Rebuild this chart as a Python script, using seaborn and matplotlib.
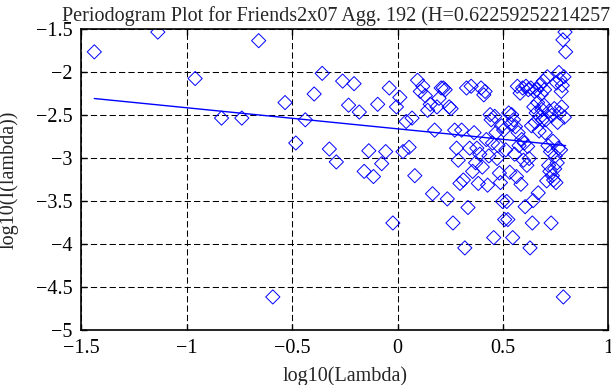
# ---------------------------------------------------
# Periodogram plot (log-log) with fitted line
# ---------------------------------------------------

import pandas as pd
import seaborn as sns
import matplotlib.pyplot as plt

# log10 of the frequencies (x) and of the periodogram values (y)
log_lambda = [
    -1.437, -1.136, -0.959, -0.834, -0.738, -0.658, -0.591, -0.533, -0.482, -0.437,
    -0.395, -0.357, -0.323, -0.290, -0.260, -0.232, -0.206, -0.181, -0.158, -0.136,
    -0.114, -0.094, -0.075, -0.056, -0.039, -0.022, -0.005, 0.011, 0.026, 0.041,
    0.055, 0.069, 0.082, 0.095, 0.108, 0.120, 0.132, 0.143, 0.155, 0.166,
    0.176, 0.187, 0.197, 0.207, 0.217, 0.226, 0.236, 0.245, 0.254, 0.263,
    0.271, 0.280, 0.288, 0.296, 0.304, 0.312, 0.319, 0.327, 0.334, 0.342,
    0.349, 0.356, 0.363, 0.370, 0.376, 0.383, 0.390, 0.396, 0.402, 0.409,
    0.415, 0.421, 0.427, 0.433, 0.439, 0.444, 0.450, 0.456, 0.461, 0.467,
    0.472, 0.477, 0.483, 0.488, 0.493, 0.498, 0.503, 0.508, 0.513, 0.518,
    0.523, 0.527, 0.532, 0.537, 0.541, 0.546, 0.550, 0.555, 0.559, 0.564,
    0.568, 0.572, 0.576, 0.581, 0.585, 0.589, 0.593, 0.597, 0.601, 0.605,
    0.609, 0.613, 0.617, 0.620, 0.624, 0.628, 0.632, 0.635, 0.639, 0.643,
    0.646, 0.650, 0.653, 0.657, 0.660, 0.664, 0.667, 0.671, 0.674, 0.677,
    0.681, 0.684, 0.687, 0.691, 0.694, 0.697, 0.700, 0.703, 0.707, 0.710,
    0.713, 0.716, 0.719, 0.722, 0.725, 0.728, 0.731, 0.734, 0.737, 0.740,
    0.743, 0.745, 0.748, 0.751, 0.754, 0.757, 0.759, 0.762, 0.765, 0.768,
    0.770, 0.773, 0.776, 0.778, 0.781, 0.784, 0.786, 0.789, 0.791, 0.794,
    0.797,
]
log_I = [
    -1.76, -1.53, -2.07, -2.53, -2.53, -1.63, -4.61, -2.35, -2.82, -2.55,
    -2.25, -2.01, -2.89, -3.04, -2.10, -2.38, -2.13, -2.46, -3.15, -2.91,
    -3.21, -2.37, -3.06, -2.92, -2.18, -3.75, -2.40, -2.29, -2.92, -2.57,
    -2.87, -2.53, -3.20, -2.09, -2.22, -2.16, -2.27, -2.44, -2.37, -3.41,
    -2.67, -2.40, -2.30, -2.18, -2.18, -2.20, -3.47, -2.40, -2.42, -3.75,
    -2.67, -2.88, -3.02, -3.29, -2.67, -3.25, -4.04, -2.18, -3.57, -2.88,
    -2.16, -3.15, -2.70, -3.05, -2.88, -3.29, -2.95, -2.18, -3.10, -2.26,
    -2.22, -2.78, -3.31, -2.97, -2.49, -2.55, -2.82, -3.92, -2.51, -2.70,
    -3.00, -2.85, -3.17, -3.28, -2.62, -3.50, -2.67, -3.71, -2.90, -3.50,
    -3.71, -2.47, -3.16, -2.60, -2.49, -3.92, -2.55, -2.95, -2.63, -3.21,
    -2.16, -2.70, -2.85, -2.24, -3.30, -2.78, -2.18, -3.02, -2.82, -3.56,
    -2.16, -3.08, -2.86, -2.20, -3.00, -4.04, -2.18, -2.62, -3.75, -3.49,
    -2.40, -2.22, -2.58, -2.47, -2.20, -2.35, -3.40, -2.68, -2.15, -2.52,
    -2.25, -2.43, -2.55, -2.10, -2.38, -2.20, -2.70, -2.55, -3.26, -2.05,
    -2.85, -3.08, -2.45, -3.15, -2.92, -3.75, -2.50, -3.20, -2.80, -3.25,
    -2.42, -3.12, -2.97, -3.28, -2.12, -3.05, -2.58, -2.88, -2.00, -2.47,
    -2.08, -2.90, -2.22, -2.40, -2.15, -1.62, -4.61, -2.05, -2.52, -1.53,
    -1.76,
]

# fitted line (slope = 1 - 2H)
hurst = "0.622592522142577"
fit_slope = -0.2452
fit_intercept = -2.655

x_ticks = [-1.5, -1, -0.5, 0, 0.5, 1]
y_ticks = [-5, -4.5, -4, -3.5, -3, -2.5, -2, -1.5]

sns.set_style("ticks")
plt.rcParams['font.family'] = ['Liberation Serif', 'DejaVu Serif']
plt.rcParams['font.size'] = 14.5

df = pd.DataFrame({'log_lambda': log_lambda, 'log_I': log_I})

fig = plt.figure(figsize=(6.11, 3.85), dpi=100)
ax = fig.add_axes([0.1326, 0.1416, 0.8633, 0.7818])

sns.scatterplot(data=df, x='log_lambda', y='log_I', marker='D', s=52,
                facecolors='none', edgecolors='blue', linewidths=0.7, ax=ax)

fx = [min(log_lambda), max(log_lambda)]
fy = [fit_intercept + fit_slope * v for v in fx]
ax.plot(fx, fy, color='blue', lw=1.0)

ax.set_xlim(-1.5, 1)
ax.set_ylim(-5, -1.5)
ax.set_xticks(x_ticks)
ax.set_yticks(y_ticks)
ax.set_xticklabels(['\u22121.5', '\u22121', '\u22120.5', '0', '0.5', '1'])
ax.set_yticklabels(['\u22125', '\u22124.5', '\u22124', '\u22123.5', '\u22123',
                    '\u22122.5', '\u22122', '\u22121.5'])
ax.grid(True, color='black', linestyle=(0, (6, 3)), linewidth=0.75)
ax.tick_params(direction='in', length=4.5, width=1, top=True, right=True,
               pad=6, colors='black', labelsize=14.5)
for sp in ax.spines.values():
    sp.set_linewidth(1.2)
    sp.set_color('black')

ax.set_xlabel("log10(Lambda)", fontsize=14.5)
ax.set_ylabel("log10(I(lambda))", fontsize=14.5)
ax.xaxis.set_label_coords(0.5, -0.12)
ax.yaxis.set_label_coords(-0.118, 0.5)
ax.set_title("Periodogram Plot for Friends2x07 Agg. 192 (H=" + hurst + ")",
             pad=6, fontsize=14.5)

fig.savefig("out.png", dpi=100)
plt.close(fig)
